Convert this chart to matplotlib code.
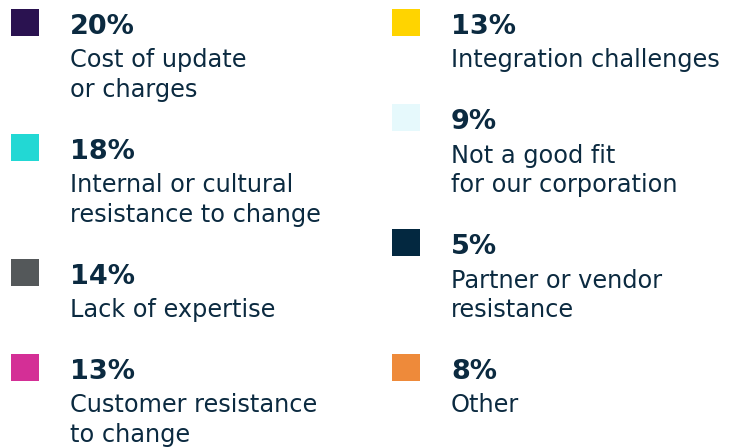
import matplotlib
matplotlib.use("Agg")
import matplotlib.pyplot as plt
from matplotlib.patches import Rectangle

# legend entries, left column then right column
left_pcts = ["20%", "18%", "14%", "13%"]
left_labels = ["Cost of update\nor charges",
               "Internal or cultural\nresistance to change",
               "Lack of expertise",
               "Customer resistance\nto change"]
left_colors = ["#2a1250", "#22d8d4", "#54585a", "#d42f96"]

right_pcts = ["13%", "9%", "5%", "8%"]
right_labels = ["Integration challenges",
                "Not a good fit\nfor our corporation",
                "Partner or vendor\nresistance",
                "Other"]
right_colors = ["#ffd400", "#e6f9fc", "#032840", "#ee8a3a"]

TEXT = "#0b2a40"
FONT = ["DejaVu Sans"]

fig = plt.figure(figsize=(7.44, 4.48), dpi=100)
ax = fig.add_axes([0, 0, 1, 1])
ax.set_xlim(0, 744)
ax.set_ylim(448, 0)
ax.axis("off")


def column(x_sq, x_txt, pcts, labels, colors):
    top = 9
    for pct, lab, col in zip(pcts, labels, colors):
        ax.add_patch(Rectangle((x_sq, top), 27.5, 27.5, color=col, lw=0))
        ax.text(x_txt, top + 25, pct, fontsize=19.5, fontweight="bold",
                color=TEXT, family=FONT, va="baseline")
        lines = lab.split("\n")
        for j, ln in enumerate(lines):
            ax.text(x_txt, top + 58.5 + 29.5 * j, ln, fontsize=17.3,
                    color=TEXT, family=FONT, va="baseline")
        top += 65 + 30 * len(lines)


column(11, 70, left_pcts, left_labels, left_colors)
column(392, 451, right_pcts, right_labels, right_colors)

fig.savefig("out.png", dpi=100)
